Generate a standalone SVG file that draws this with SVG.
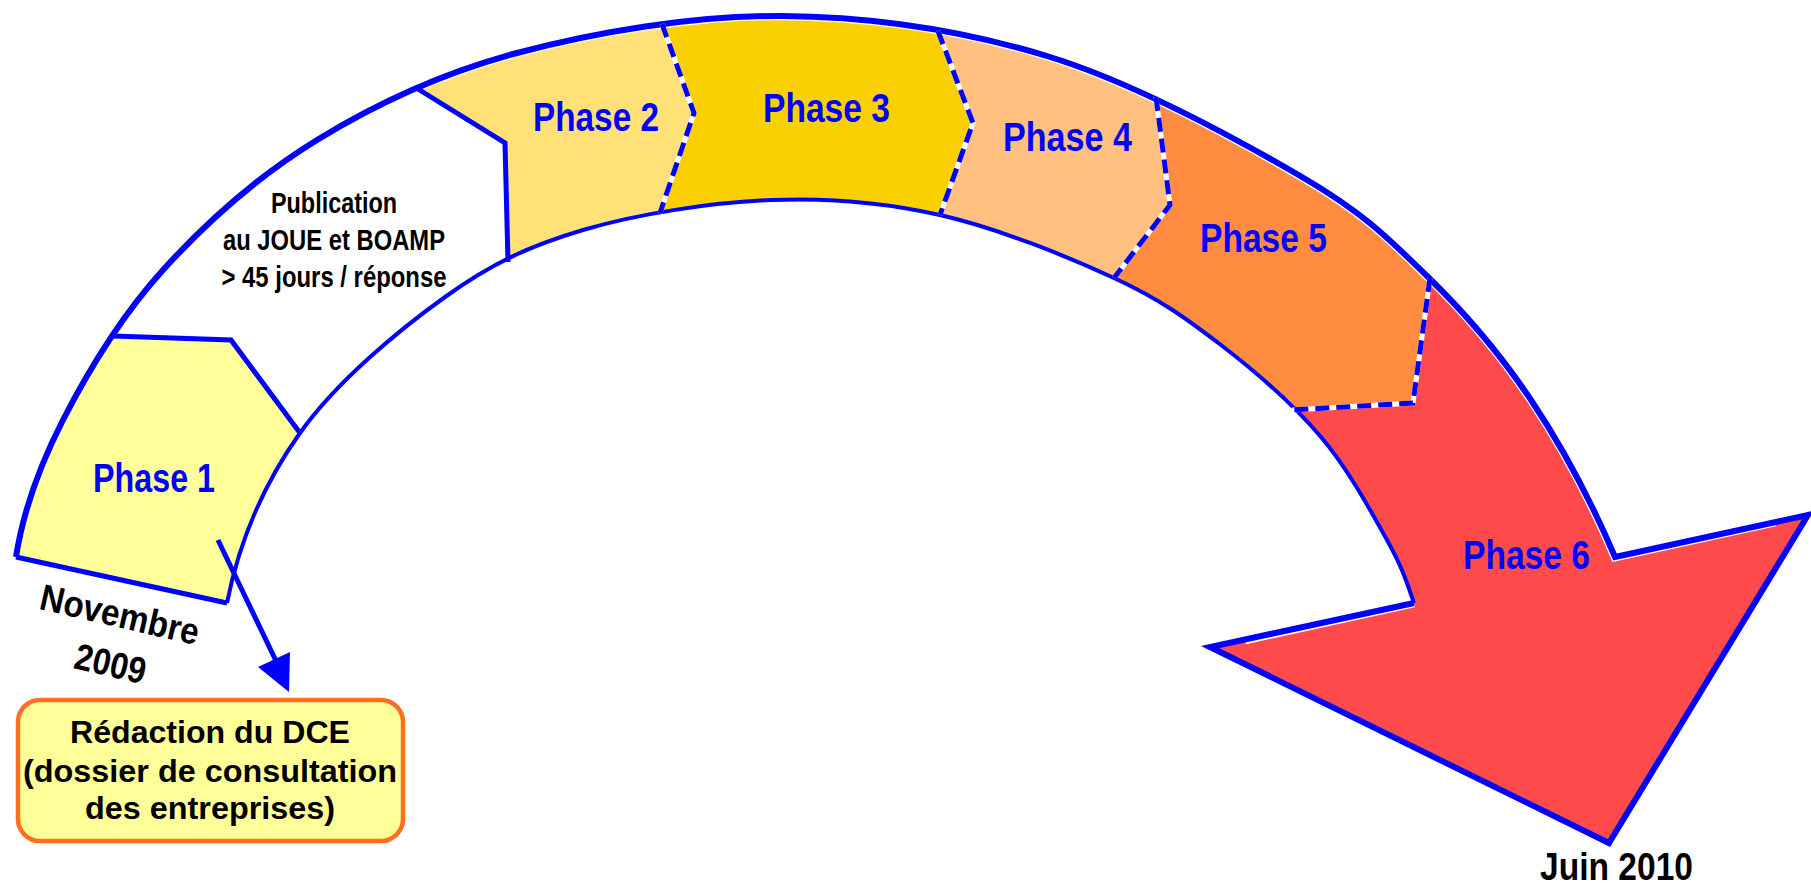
<svg xmlns="http://www.w3.org/2000/svg" width="1811" height="886" viewBox="0 0 1811 886">
<style>
.nar{font-family:"Liberation Sans Narrow","Liberation Sans",Arial,sans-serif;font-weight:bold}
.ph{fill:#0000FF;font-size:41px}
.blk{fill:#000000}
.box{font-family:"Liberation Sans",Arial,sans-serif;font-weight:bold;font-size:32px;fill:#000000}
.edge{fill:none;stroke:#0000FF;stroke-linejoin:miter}
.dashW{fill:none;stroke:#FFFFFF;stroke-width:5}
.dashB{fill:none;stroke:#0000FF;stroke-width:5;stroke-dasharray:14 7}
</style>
<defs>
<clipPath id="band">
<path d="M16,557 C22.8,513.5 38.5,467.8 63,420 C87.5,372.2 120.7,316.7 163,270 C205.3,223.3 258,176.2 317,140 C376,103.8 439.5,73.7 517,53 C594.5,32.3 693.2,15.3 782,16 C870.8,16.7 963.3,30.2 1050,57 C1136.7,83.8 1239,140.3 1302,177 C1365,213.7 1389.8,239.8 1428,277 C1466.2,314.2 1499.8,353.3 1531,400 C1562.2,446.7 1590.2,499 1615,557 L1808,515 L1609,843 L1210,647 L1414,603 C1406.5,581.7 1402.5,567.7 1387,540 C1371.5,512.3 1348.7,469.5 1321,437 C1293.3,404.5 1255.5,371.5 1221,345 C1186.5,318.5 1160.8,299.7 1114,278 C1067.2,256.3 997.2,228 940,215 C882.8,202 830.5,197.5 771,200 C711.5,202.5 637.3,213.8 583,230 C528.7,246.2 492.2,263.2 445,297 C397.8,330.8 336.3,382 300,433 C263.7,484 239.3,540.7 227,603 Z"/>
</clipPath>
</defs>
<rect x="0" y="0" width="1811" height="886" fill="#FFFFFF"/>

<g id="phase1">
<path clip-path="url(#band)" fill="#FFFF99" d="M-50,330 L231,340 L300,433 L360,514 L360,700 L-50,700 Z"/>
</g>
<g id="phase2">
<path clip-path="url(#band)" fill="#FFE178" d="M366,57 L505,143 L508,262 L509,320 L643,263 L660,213 L694,113 L662,24 L651,-6 L366,-6 Z"/>
</g>
<g id="phase3">
<path clip-path="url(#band)" fill="#FAD000" d="M651,-6 L662,24 L694,113 L660,213 L643,263 L925,257 L940,215 L973,123 L938,31 L926,-2 Z"/>
</g>
<g id="phase4">
<path clip-path="url(#band)" fill="#FFC080" d="M926,-2 L938,31 L973,123 L940,215 L925,257 L1080,322 L1114,278 L1170,205 L1156,97 L1148,35 Z"/>
</g>
<g id="phase5">
<path clip-path="url(#band)" fill="#FF8C40" d="M1148,35 L1156,97 L1170,205 L1114,278 L1080,322 L1240,414 L1292,410 L1413,403 L1430,278 L1438,218 Z"/>
</g>
<g id="phase6">
<path clip-path="url(#band)" fill="#FF4B4B" d="M1438,218 L1430,278 L1413,403 L1292,410 L1240,414 L1150,600 L1150,886 L1811,886 L1811,218 Z"/>
</g>

<g id="outline">
<path clip-path="url(#band)" fill="none" stroke="#FFFFFF" stroke-width="8.5" d="M317,140 C376,103.8 439.5,73.7 517,53 C594.5,32.3 693.2,15.3 782,16 C870.8,16.7 963.3,30.2 1050,57 C1136.7,83.8 1239,140.3 1302,177 C1365,213.7 1389.8,239.8 1428,277 C1466.2,314.2 1499.8,353.3 1531,400 C1562.2,446.7 1590.2,499 1615,557 L1775,522 M1245,640 L1414,603"/>
<path class="edge" stroke-width="6" d="M16,557 C22.8,513.5 38.5,467.8 63,420 C87.5,372.2 120.7,316.7 163,270 C205.3,223.3 258,176.2 317,140 C376,103.8 439.5,73.7 517,53 C594.5,32.3 693.2,15.3 782,16 C870.8,16.7 963.3,30.2 1050,57 C1136.7,83.8 1239,140.3 1302,177 C1365,213.7 1389.8,239.8 1428,277 C1466.2,314.2 1499.8,353.3 1531,400 C1562.2,446.7 1590.2,499 1615,557 L1808,515 L1609,843 L1210,647 L1414,603"/>
<path class="edge" stroke-width="4" d="M227,603 C239.3,540.7 263.7,484 300,433 C336.3,382 397.8,330.8 445,297 C492.2,263.2 528.7,246.2 583,230 C637.3,213.8 711.5,202.5 771,200 C830.5,197.5 882.8,202 940,215 C997.2,228 1067.2,256.3 1114,278 C1160.8,299.7 1186.5,318.5 1221,345 C1255.5,371.5 1293.3,404.5 1321,437 C1348.7,469.5 1371.5,512.3 1387,540 C1402.5,567.7 1406.5,581.7 1414,603"/>
<path class="edge" stroke-width="5" d="M113,336 L231,340 L300,433"/>
<path class="edge" stroke-width="5" d="M16,557 L227,603"/>
<path class="edge" stroke-width="5" d="M418,89 L505,143 L508,262"/>
<path class="dashW" d="M662,24 L694,113 L660,213"/>
<path class="dashB" d="M662,24 L694,113 L660,213"/>
<path class="dashW" d="M938,31 L973,123 L940,215"/>
<path class="dashB" d="M938,31 L973,123 L940,215"/>
<path class="dashW" d="M1156,97 L1170,205 L1114,278"/>
<path class="dashB" d="M1156,97 L1170,205 L1114,278"/>
<path class="dashW" d="M1430,278 L1413,403 L1292,410"/>
<path class="dashB" d="M1430,278 L1413,403 L1292,410"/>
</g>

<g id="labels">
<text class="nar ph" x="93" y="492" textLength="122" lengthAdjust="spacingAndGlyphs">Phase 1</text>
<text class="nar ph" x="533" y="131" textLength="126" lengthAdjust="spacingAndGlyphs">Phase 2</text>
<text class="nar ph" x="763" y="122" textLength="127" lengthAdjust="spacingAndGlyphs">Phase 3</text>
<text class="nar ph" x="1003" y="151" textLength="129" lengthAdjust="spacingAndGlyphs">Phase 4</text>
<text class="nar ph" x="1200" y="252" textLength="127" lengthAdjust="spacingAndGlyphs">Phase 5</text>
<text class="nar ph" x="1463" y="569" textLength="127" lengthAdjust="spacingAndGlyphs">Phase 6</text>
</g>

<g id="publication" class="nar blk" font-size="29" text-anchor="middle">
<text x="334" y="213" textLength="126" lengthAdjust="spacingAndGlyphs">Publication</text>
<text x="334" y="250" textLength="222" lengthAdjust="spacingAndGlyphs">au JOUE et BOAMP</text>
<text x="334" y="287" textLength="225" lengthAdjust="spacingAndGlyphs">&gt; 45 jours / réponse</text>
</g>

<g id="start-date" class="nar blk" font-size="37" text-anchor="middle" transform="translate(117,627) rotate(13)">
<text x="0" y="0" textLength="162" lengthAdjust="spacingAndGlyphs">Novembre</text>
<text x="2" y="50" textLength="72" lengthAdjust="spacingAndGlyphs">2009</text>
</g>

<g id="end-date">
<text class="nar blk" font-size="38" x="1540" y="880" textLength="153" lengthAdjust="spacingAndGlyphs">Juin 2010</text>
</g>

<g id="dce">
<rect x="18" y="700" width="385" height="141" rx="22" ry="22" fill="#FFFF99" stroke="#FF6F1F" stroke-width="4.5"/>
<text class="box" x="210" y="743" text-anchor="middle" textLength="280" lengthAdjust="spacingAndGlyphs">Rédaction du DCE</text>
<text class="box" x="210" y="782" text-anchor="middle" textLength="374" lengthAdjust="spacingAndGlyphs">(dossier de consultation</text>
<text class="box" x="210" y="819" text-anchor="middle" textLength="250" lengthAdjust="spacingAndGlyphs">des entreprises)</text>
</g>

<g id="connectors">
<line x1="218" y1="540" x2="277" y2="663" stroke="#0000FF" stroke-width="5"/>
<polygon points="258,667 290,652 289,692" fill="#0000FF"/>
</g>
</svg>
